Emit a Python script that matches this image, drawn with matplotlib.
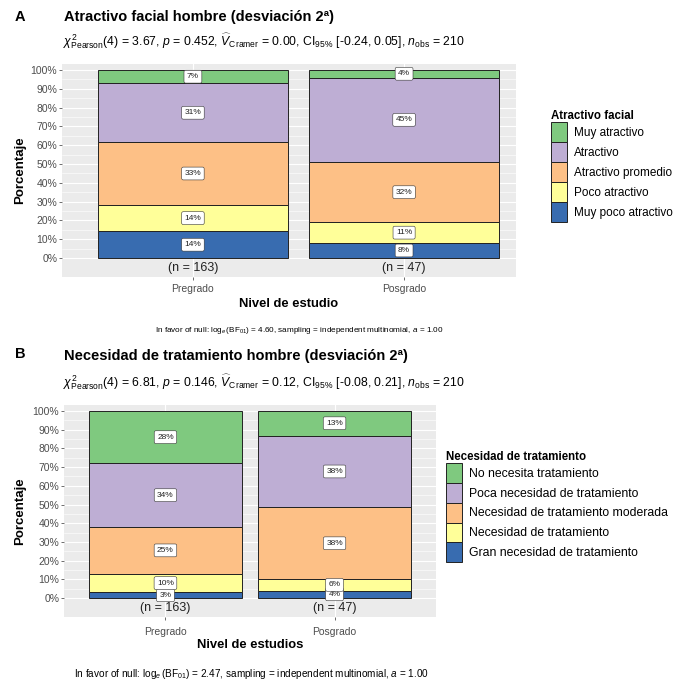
import numpy as np
import matplotlib
matplotlib.use("Agg")
import matplotlib.pyplot as plt
from matplotlib.patches import Patch

plt.rcParams['font.family'] = ['Liberation Sans', 'DejaVu Sans']
plt.rcParams['mathtext.fontset'] = 'custom'
plt.rcParams['mathtext.rm'] = 'Liberation Sans'
plt.rcParams['mathtext.it'] = 'Liberation Sans:italic'
plt.rcParams['mathtext.bf'] = 'Liberation Sans:bold'

# ---- data (percent per group, stacked bottom -> top) ----
groups = ["Pregrado", "Posgrado"]
group_n = [163, 47]

levels_a = ["Muy poco atractivo", "Poco atractivo", "Atractivo promedio",
            "Atractivo", "Muy atractivo"]
pregrado_a = [14, 14, 33, 31, 7]
posgrado_a = [8, 11, 32, 45, 4]

levels_b = ["Gran necesidad de tratamiento", "Necesidad de tratamiento",
            "Necesidad de tratamiento moderada", "Poca necesidad de tratamiento",
            "No necesita tratamiento"]
pregrado_b = [3, 10, 25, 34, 28]
posgrado_b = [4, 6, 38, 38, 13]

# Accent palette, bottom -> top
colors = ["#386CB0", "#FFFF99", "#FDC086", "#BEAED4", "#7FC97F"]

W, H = 680, 682
fig = plt.figure(figsize=(W / 100, H / 100), dpi=100)


def px_axes(left, top, right, bottom):
    return fig.add_axes([left / W, 1 - bottom / H, (right - left) / W, (bottom - top) / H])


def stacked_panel(ax, pre, pos, xlabel, xlim, xpad, xlabelpad):
    ax.set_facecolor("#EBEBEB")
    x = np.arange(1, len(groups) + 1)
    for gi, vals in enumerate([pre, pos]):
        vals = np.array(vals, dtype=float)
        props = vals / vals.sum()
        bottom = 0.0
        for li, (v, p) in enumerate(zip(vals, props)):
            ax.bar(x[gi], p, 0.9, bottom=bottom, color=colors[li],
                   edgecolor="#222222", linewidth=0.7, zorder=3)
            ax.text(x[gi], bottom + p / 2, f"{int(v)}%", ha="center", va="center",
                    fontsize=6, color="#222222", zorder=4,
                    bbox=dict(boxstyle="round,pad=0.35,rounding_size=0.2",
                              fc="white", ec="#333333", lw=0.4))
            bottom += p
        ax.text(x[gi], -0.053, f"(n = {group_n[gi]})", ha="center", va="center",
                fontsize=9, color="#222222", zorder=4)
    ax.set_xlim(*xlim)
    ax.set_ylim(-0.101, 1.032)
    yt = np.arange(0, 1.01, 0.1)
    ax.set_yticks(yt)
    ax.set_yticklabels([f"{int(round(t * 100))}%" for t in yt], fontsize=7.5, color="#4D4D4D")
    ax.set_yticks(np.arange(0.05, 1.0, 0.1), minor=True)
    ax.set_xticks(x)
    ax.set_xticklabels(groups, fontsize=7.5, color="#4D4D4D")
    ax.tick_params(axis="both", which="major", length=2, width=0.5, color="#333333")
    ax.tick_params(axis="x", pad=xpad)
    ax.tick_params(axis="y", pad=1.5)
    ax.tick_params(axis="y", which="minor", length=0)
    ax.grid(True, which="major", color="white", lw=0.8, zorder=0)
    ax.grid(True, which="minor", axis="y", color="white", lw=0.4, zorder=0)
    ax.set_axisbelow(True)
    for s in ax.spines.values():
        s.set_visible(False)
    ax.set_ylabel("Porcentaje", fontsize=9.5, fontweight="bold")
    ax.set_xlabel(xlabel, fontsize=9.4, fontweight="bold", labelpad=xlabelpad)


def add_legend(levels, title, x, y, fs, hh):
    handles = [Patch(facecolor=colors[i], edgecolor="#222222", linewidth=0.7, label=levels[i])
               for i in range(len(levels) - 1, -1, -1)]
    leg = fig.legend(handles=handles, title=title, loc="upper left",
                     bbox_to_anchor=(x / W, 1 - y / H), frameon=False,
                     fontsize=fs, title_fontsize=8.3, handlelength=11.5 / fs,
                     handleheight=hh, labelspacing=0, handletextpad=5 / fs,
                     borderpad=0, borderaxespad=0)
    leg.get_title().set_fontweight("bold")
    leg._legend_box.align = "left"


# ---- panel A ----
axA = px_axes(62, 64, 516, 277)
stacked_panel(axA, pregrado_a, posgrado_a, "Nivel de estudio", (0.38, 2.53), 3, 3)
axA.yaxis.set_label_coords(-36 / 454, 0.5)
fig.text(15 / W, 1 - 17 / H, "A", fontsize=10.5, fontweight="bold", va="center")
fig.text(64 / W, 1 - 17 / H, "Atractivo facial hombre (desviación 2ª)",
         fontsize=10.5, fontweight="bold", va="center")
fig.text(63 / W, 1 - 41 / H,
         r"$\chi^2_{\mathrm{Pearson}}(4)$ = 3.67, $\mathit{p}$ = 0.452, "
         r"$\widehat{V}_{\mathrm{Cramer}}$ = 0.00, CI$_{95\%}$ [-0.24, 0.05], "
         r"$\mathit{n}_{\mathrm{obs}}$ = 210", fontsize=8.8, va="center")
fig.text(299 / W, 1 - 330 / H,
         r"In favor of null: $\log_{e}(\mathrm{BF}_{01})$ = 4.60, sampling = independent multinomial, $\mathit{a}$ = 1.00",
         fontsize=5.9, ha="center", va="center")
add_legend(levels_a, "Atractivo facial", 551, 110, 8.5, 2.23)

# ---- panel B ----
axB = px_axes(64, 405, 436, 617)
stacked_panel(axB, pregrado_b, posgrado_b, "Nivel de estudios", (0.4, 2.6), 5, 2)
axB.yaxis.set_label_coords(-38 / 372, 0.5)
fig.text(15 / W, 1 - 354 / H, "B", fontsize=10.5, fontweight="bold", va="center")
fig.text(64 / W, 1 - 356 / H, "Necesidad de tratamiento hombre (desviación 2ª)",
         fontsize=10.5, fontweight="bold", va="center")
fig.text(63 / W, 1 - 382 / H,
         r"$\chi^2_{\mathrm{Pearson}}(4)$ = 6.81, $\mathit{p}$ = 0.146, "
         r"$\widehat{V}_{\mathrm{Cramer}}$ = 0.12, CI$_{95\%}$ [-0.08, 0.21], "
         r"$\mathit{n}_{\mathrm{obs}}$ = 210", fontsize=8.8, va="center")
fig.text(251 / W, 1 - 674 / H,
         r"In favor of null: $\log_{e}(\mathrm{BF}_{01})$ = 2.47, sampling = independent multinomial, $\mathit{a}$ = 1.00",
         fontsize=7.2, ha="center", va="center")
add_legend(levels_b, "Necesidad de tratamiento", 446, 451, 8.8, 2.12)

fig.savefig("out.png", dpi=100, facecolor="white")
